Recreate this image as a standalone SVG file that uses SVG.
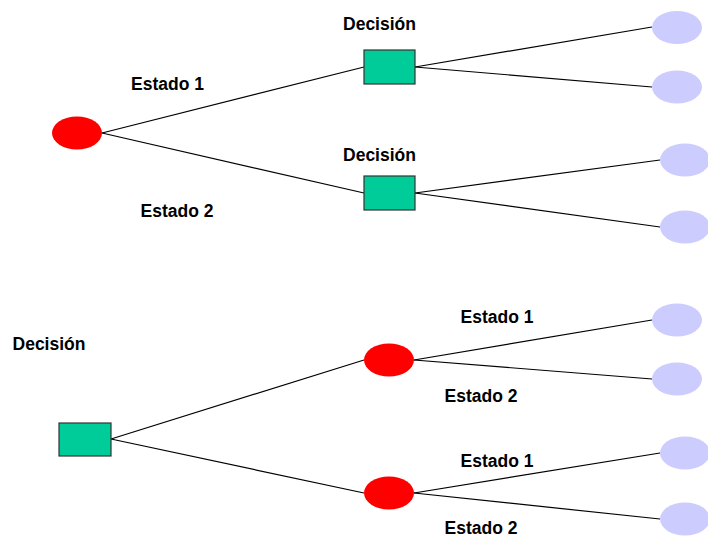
<svg xmlns="http://www.w3.org/2000/svg" width="708" height="538" viewBox="0 0 708 538">
<style>
.chance{fill:#ff0000;stroke:none}
.dec{fill:#00cc99;stroke:#333333;stroke-width:1.2}
.out{fill:#ccccff;stroke:none}
.lbl{font-family:"Liberation Sans",Arial,sans-serif;font-weight:bold;font-size:17.5px;fill:#000;text-anchor:middle}
#connectors line{stroke:#000;stroke-width:1.2}
</style>
<rect width="708" height="538" fill="#ffffff"/>
<g id="connectors">
<line x1="102" y1="133" x2="364" y2="67"/>
<line x1="102" y1="133" x2="364" y2="193"/>
<line x1="415" y1="67" x2="652" y2="27"/>
<line x1="415" y1="67" x2="652" y2="87"/>
<line x1="415" y1="193" x2="660" y2="160"/>
<line x1="415" y1="193" x2="660" y2="227"/>
<line x1="111" y1="439" x2="364" y2="360"/>
<line x1="111" y1="439" x2="364" y2="493"/>
<line x1="414" y1="360" x2="652" y2="320"/>
<line x1="414" y1="360" x2="652" y2="379"/>
<line x1="414" y1="493" x2="660" y2="453"/>
<line x1="414" y1="493" x2="660" y2="519"/>
</g>
<g id="n-root1"><ellipse class="chance" cx="77" cy="133" rx="25" ry="16.5"/></g>
<g id="n-dec1"><rect class="dec" x="364" y="50" width="51" height="34"/></g>
<g id="n-dec2"><rect class="dec" x="364" y="176" width="51" height="34"/></g>
<g id="n-o1"><ellipse class="out" cx="677" cy="27.5" rx="25" ry="16.5"/></g>
<g id="n-o2"><ellipse class="out" cx="677" cy="87" rx="25" ry="16.5"/></g>
<g id="n-o3"><ellipse class="out" cx="685" cy="160" rx="25" ry="16.5"/></g>
<g id="n-o4"><ellipse class="out" cx="685" cy="227" rx="25" ry="16.5"/></g>
<g id="n-root2"><rect class="dec" x="59" y="423" width="52" height="33"/></g>
<g id="n-ch1"><ellipse class="chance" cx="389" cy="360" rx="25" ry="16.5"/></g>
<g id="n-ch2"><ellipse class="chance" cx="389" cy="493" rx="25" ry="16.5"/></g>
<g id="n-o5"><ellipse class="out" cx="677" cy="320" rx="25" ry="16.5"/></g>
<g id="n-o6"><ellipse class="out" cx="677" cy="379" rx="25" ry="16.5"/></g>
<g id="n-o7"><ellipse class="out" cx="685" cy="453" rx="25" ry="16.5"/></g>
<g id="n-o8"><ellipse class="out" cx="685" cy="519" rx="25" ry="16.5"/></g>
<g id="labels">
<text class="lbl" x="379.5" y="30">Decisión</text>
<text class="lbl" x="167.5" y="90">Estado 1</text>
<text class="lbl" x="379.5" y="161">Decisión</text>
<text class="lbl" x="177" y="217">Estado 2</text>
<text class="lbl" x="49" y="350">Decisión</text>
<text class="lbl" x="497" y="323">Estado 1</text>
<text class="lbl" x="481" y="402">Estado 2</text>
<text class="lbl" x="497" y="467">Estado 1</text>
<text class="lbl" x="481" y="534">Estado 2</text>
</g>
</svg>
